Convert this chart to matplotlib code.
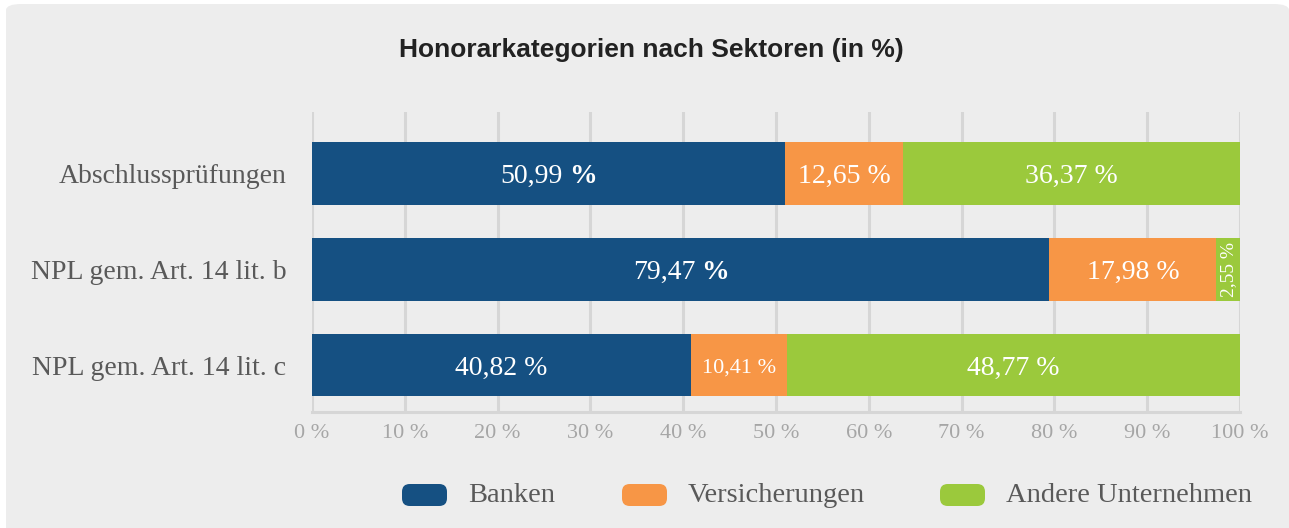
import matplotlib
matplotlib.use("Agg")
import matplotlib.pyplot as plt
from matplotlib.patches import FancyBboxPatch
import numpy as np

categories = ["Abschlussprüfungen", "NPL gem. Art. 14 lit. b", "NPL gem. Art. 14 lit. c"]
series_names = ["Banken", "Versicherungen", "Andere Unternehmen"]
banken = [50.99, 79.47, 40.82]
versicherungen = [12.65, 17.98, 10.41]
andere = [36.37, 2.55, 48.77]
xticks = [0, 10, 20, 30, 40, 50, 60, 70, 80, 90, 100]
xtick_labels = [f"{t} %" for t in xticks]
title = "Honorarkategorien nach Sektoren (in %)"

colors = ["#155082", "#F79646", "#9BC93C"]
SERIF = "Liberation Serif"
W, H = 1289, 528

fig = plt.figure(figsize=(W / 100, H / 100), dpi=100)
fig.patch.set_facecolor("white")

# background panel
panel = FancyBboxPatch((6 / W, -0.05), (1289 - 6) / W, 1.05 - 4 / H,
                       boxstyle="round,pad=0,rounding_size=0.012",
                       transform=fig.transFigure, facecolor="#EDEDED",
                       edgecolor="none", zorder=-10)
fig.patches.append(panel)

ax = fig.add_axes([312 / W, 1 - 412 / H, (1240 - 312) / W, (412 - 112) / H])
ax.set_facecolor("none")
ax.set_zorder(2)

y = np.arange(len(categories))
data = [banken, versicherungen, andere]
left = np.zeros(len(categories))
bar_h = 0.655
for vals, c in zip(data, colors):
    ax.barh(y, vals, left=left, height=bar_h, color=c, zorder=3)
    left = left + np.array(vals)

ax.set_xlim(0, 100)
ax.set_ylim(2.49, -0.64)
ax.set_xticks(xticks)
ax.set_xticklabels(xtick_labels, fontfamily=SERIF, fontsize=16, color="#A6A6A6")
ax.set_yticks(y)
ax.set_yticklabels(categories, fontfamily=SERIF, fontsize=20, color="#595959")
ax.tick_params(axis="y", length=0, pad=18.5)
ax.tick_params(axis="x", length=0, pad=9)
ax.grid(axis="x", color="#D6D6D6", linewidth=2.2, zorder=1)
for s in ["top", "right", "left"]:
    ax.spines[s].set_visible(False)
ax.spines["bottom"].set_color("#D6D6D6")
ax.spines["bottom"].set_linewidth(2.2)

fig.canvas.draw()
renderer = fig.canvas.get_renderer()

def label(xc, yc, num, bold_pct, size, rot=0):
    if rot:
        ax.text(xc, yc, f"{num} %", ha="center", va="center", rotation=90,
                fontfamily=SERIF, fontsize=size, color="white", zorder=5)
        return
    if not bold_pct:
        ax.text(xc, yc, f"{num} %", ha="center", va="center",
                fontfamily=SERIF, fontsize=size, color="white", zorder=5)
        return
    t1 = ax.text(0, 0, num, fontfamily=SERIF, fontsize=size)
    t2 = ax.text(0, 0, "%", fontfamily=SERIF, fontsize=size, fontweight="bold")
    w1 = t1.get_window_extent(renderer).width
    w2 = t2.get_window_extent(renderer).width
    t1.remove(); t2.remove()
    gap = size * 1.389 * 0.2
    xpix, ypix = ax.transData.transform((xc, yc))
    x0 = xpix - (w1 + gap + w2) / 2
    inv = ax.transData.inverted()
    xa, _ = inv.transform((x0, ypix))
    xb, _ = inv.transform((x0 + w1 + gap, ypix))
    ax.text(xa, yc, num, ha="left", va="center", fontfamily=SERIF,
            fontsize=size, color="white", zorder=5)
    ax.text(xb, yc, "%", ha="left", va="center", fontfamily=SERIF,
            fontsize=size, color="white", fontweight="bold", zorder=5)

def fmt(v):
    return f"{v:.2f}".replace(".", ",")

for i in range(len(categories)):
    starts = [0, banken[i], banken[i] + versicherungen[i]]
    for j, vals in enumerate(data):
        v = vals[i]
        xc = starts[j] + v / 2
        yc = y[i] + 0.03
        if v < 5:
            label(xc, y[i], fmt(v), False, 14, rot=90)
        elif v < 11:
            label(xc, yc, fmt(v), False, 16)
        else:
            label(xc, yc, fmt(v), j == 0 and i < 2, 20)

fig.text(651 / W, 1 - 50 / H, title, ha="center", va="center",
         fontfamily="Liberation Sans", fontweight="bold", fontsize=19,
         color="#222222")

# legend
leg_x = [402, 622, 940]
for xp, name, c in zip(leg_x, series_names, colors):
    p = FancyBboxPatch((xp / W, 1 - 506 / H), 45 / W, 22 / H,
                       boxstyle="round,pad=0,rounding_size=0.006",
                       transform=fig.transFigure, facecolor=c,
                       edgecolor="none", mutation_aspect=W / H)
    fig.patches.append(p)
    fig.text((xp + 66) / W, 1 - 495 / H, name, ha="left", va="center",
             fontfamily=SERIF, fontsize=20.5, color="#595959")

fig.savefig("out.png", dpi=100, facecolor="white")
